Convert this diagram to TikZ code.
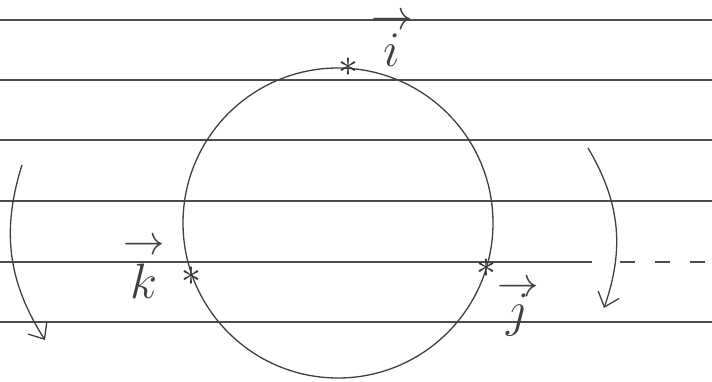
\documentclass[tikz,border=0pt]{standalone}
\usetikzlibrary{positioning,arrows.meta}
\newcommand\hv[2][20pt]{\scalebox{2}{\ooalign{$#2$\cr\hidewidth\raisebox{#1}[0pt][0pt]{$\scriptstyle\rightarrow$}\hidewidth\cr}}}
\begin{document}
\begin{tikzpicture}[x=1pt,y=-1pt,
  rule/.style={line width=1.3pt, black!70},
  ink/.style={line width=1.3pt, black!75},
  barb/.style={-{Straight Barb[length=13pt,width=22pt]}},
  star/.style={inner sep=0pt, text=black!80, font=\fontsize{24.88}{25}\selectfont},
  lbl/.style={inner sep=0pt, anchor=base, text=black!75, font=\fontsize{24.88}{25}\selectfont}]
  \useasboundingbox[fill=white] (0,0) rectangle (712,381);
  % ruled paper
  \foreach \y in {20,80,140,201,322}
    \draw[rule] (0,\y) -- (712,\y);
  \draw[rule] (0,262) -- (592,262);
  \draw[rule, dash pattern=on 15pt off 20pt] (620,262) -- (712,262);
  % circle and its points
  \node[ink, draw, circle, minimum size=310pt, inner sep=0pt] (c) at (338,223) {};
  \node[star] (si) at (c.86) {\scalebox{1.6}{$*$}};
  \node[star] (sk) at (c.200) {\scalebox{1.6}{$*$}};
  \node[star] (sj) at (c.343) {\scalebox{1.6}{$*$}};
  \node[lbl] (i) at (392,66) {\hv[18.5pt]{i}};
  \node[lbl] (k) at (144,298) {\hv[22pt]{k}};
  \node[lbl] (j) at (518,326) {\hv[15pt]{j}};
  % turning arrows
  \coordinate (la) at (22,165);
  \coordinate (lb) at (45,340);
  \draw[ink, barb] (la) to[bend right=25] (lb);
  \coordinate (ra) at (588,148);
  \coordinate (rb) at (604,308);
  \draw[ink, barb] (ra) to[bend left=25] (rb);
\end{tikzpicture}
\end{document}
